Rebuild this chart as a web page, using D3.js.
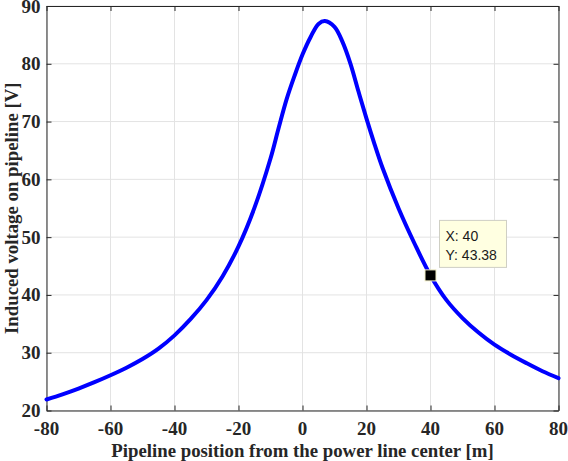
<!DOCTYPE html>
<html>
<head>
<meta charset="utf-8">
<script src="https://cdn.jsdelivr.net/npm/d3@7"></script>
<style>
  body { margin: 0; background: #fff; }
  svg { display: block; }
</style>
</head>
<body>
<div id="chart"></div>
<script>
// pipeline position [m] and induced voltage [V]
var positions = [-80, -75, -70, -65, -60, -55, -50, -45, -40, -35, -30, -25, -20, -15, -10, -7.5, -5, -2.5, 0, 2.5, 5, 7, 10, 12.5, 15, 17.5, 20, 22.5, 25, 30, 35, 40, 45, 50, 55, 60, 65, 70, 75, 80];
var voltages = [21.9, 22.8, 23.8, 24.9, 26.1, 27.4, 28.9, 30.7, 33.0, 35.8, 39.1, 43.2, 48.4, 55.1, 63.6, 68.8, 73.8, 77.9, 81.6, 84.6, 86.9, 87.4, 86.4, 83.8, 80.0, 75.2, 70.5, 66.1, 62.0, 55.0, 48.9, 43.38, 39.1, 36.0, 33.5, 31.4, 29.7, 28.2, 26.8, 25.6];

var xTicks = [-80, -60, -40, -20, 0, 20, 40, 60, 80];
var yTicks = [20, 30, 40, 50, 60, 70, 80, 90];

// data tip
var tipX = 40;
var tipY = 43.38;

var width = 568,
  height = 461;
var margin = { top: 6, right: 9.5, bottom: 50.5, left: 46.5 };
var serif = '"Liberation Serif", "Times New Roman", serif';
var ink = '#262626';

var svg = d3.select('#chart')
  .append('svg')
  .attr('width', width)
  .attr('height', height);

var x = d3.scaleLinear()
  .domain([-80, 80])
  .range([margin.left, width - margin.right]);

var y = d3.scaleLinear()
  .domain([20, 90])
  .range([height - margin.bottom, margin.top]);

// grid
svg.append('g')
  .selectAll('line')
  .data(xTicks)
  .join('line')
  .attr('x1', d => x(d))
  .attr('x2', d => x(d))
  .attr('y1', y(20))
  .attr('y2', y(90))
  .attr('stroke', '#e3e3e3')
  .attr('stroke-width', 1);

svg.append('g')
  .selectAll('line')
  .data(yTicks)
  .join('line')
  .attr('x1', x(-80))
  .attr('x2', x(80))
  .attr('y1', d => y(d))
  .attr('y2', d => y(d))
  .attr('stroke', '#e3e3e3')
  .attr('stroke-width', 1);

// axes (box with inward ticks), labels are drawn separately below
function styleAxis(g) {
  g.select('.domain').attr('stroke', ink).attr('stroke-width', 1);
  g.selectAll('.tick line').attr('stroke', ink);
}

svg.append('g')
  .attr('transform', 'translate(0,' + y(20) + ')')
  .call(d3.axisBottom(x).tickValues(xTicks).tickFormat('').tickSizeInner(-5).tickSizeOuter(0))
  .call(styleAxis);

svg.append('g')
  .attr('transform', 'translate(0,' + y(90) + ')')
  .call(d3.axisTop(x).tickValues(xTicks).tickFormat('').tickSizeInner(-5).tickSizeOuter(0))
  .call(styleAxis);

svg.append('g')
  .attr('transform', 'translate(' + x(-80) + ',0)')
  .call(d3.axisLeft(y).tickValues(yTicks).tickFormat('').tickSizeInner(-5).tickSizeOuter(0))
  .call(styleAxis);

svg.append('g')
  .attr('transform', 'translate(' + x(80) + ',0)')
  .call(d3.axisRight(y).tickValues(yTicks).tickFormat('').tickSizeInner(-5).tickSizeOuter(0))
  .call(styleAxis);

// tick labels, times bold with a plain hyphen for negatives
svg.append('g')
  .selectAll('text')
  .data(xTicks)
  .join('text')
  .attr('x', d => x(d))
  .attr('y', y(20) + 24)
  .attr('text-anchor', 'middle')
  .attr('fill', ink)
  .attr('font-family', serif)
  .attr('font-weight', 'bold')
  .attr('font-size', 19)
  .text(d => String(d));

svg.append('g')
  .selectAll('text')
  .data(yTicks)
  .join('text')
  .attr('x', x(-80) - 6)
  .attr('y', d => y(d) + 6.5)
  .attr('text-anchor', 'end')
  .attr('fill', ink)
  .attr('font-family', serif)
  .attr('font-weight', 'bold')
  .attr('font-size', 19)
  .text(d => String(d));

// curve
var line = d3.line()
  .x(d => x(d[0]))
  .y(d => y(d[1]))
  .curve(d3.curveCatmullRom.alpha(0.5));

svg.append('path')
  .datum(d3.zip(positions, voltages))
  .attr('d', line)
  .attr('fill', 'none')
  .attr('stroke', '#0000ff')
  .attr('stroke-width', 4)
  .attr('stroke-linecap', 'round');

// axis labels
svg.append('text')
  .attr('x', x(0))
  .attr('y', 457)
  .attr('text-anchor', 'middle')
  .attr('fill', ink)
  .attr('font-family', serif)
  .attr('font-weight', 'bold')
  .attr('font-size', 18.8)
  .text('Pipeline position from the power line center [m]');

svg.append('text')
  .attr('transform', 'translate(18,' + y(55) + ') rotate(-90)')
  .attr('text-anchor', 'middle')
  .attr('fill', ink)
  .attr('font-family', serif)
  .attr('font-weight', 'bold')
  .attr('font-size', 18.8)
  .text('Induced voltage on pipeline [V]');

// data tip box + marker
var tip = svg.append('g');
tip.append('rect')
  .attr('x', x(tipX) + 9)
  .attr('y', y(tipY) - 55)
  .attr('width', 67)
  .attr('height', 47)
  .attr('fill', '#ffffe1')
  .attr('stroke', '#cfcfc4')
  .attr('stroke-width', 1);

tip.append('text')
  .attr('x', x(tipX) + 15)
  .attr('y', y(tipY) - 34)
  .attr('fill', '#1a1a1a')
  .attr('font-family', '"Liberation Sans", Arial, sans-serif')
  .attr('font-size', 14)
  .text('X: ' + tipX);

tip.append('text')
  .attr('x', x(tipX) + 15)
  .attr('y', y(tipY) - 15)
  .attr('fill', '#1a1a1a')
  .attr('font-family', '"Liberation Sans", Arial, sans-serif')
  .attr('font-size', 14)
  .text('Y: ' + tipY.toFixed(2));

tip.append('rect')
  .attr('x', x(tipX) - 5.5)
  .attr('y', y(tipY) - 5.5)
  .attr('width', 11)
  .attr('height', 11)
  .attr('fill', '#000')
  .attr('stroke', '#f2efc8')
  .attr('stroke-width', 1);
</script>
</body>
</html>
